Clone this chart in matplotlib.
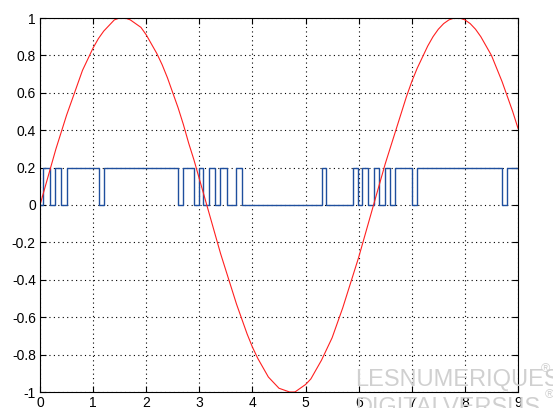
import numpy as np
import matplotlib.pyplot as plt

# red curve, every 0.1 on x
sine_x = np.linspace(0, 9, 91)
sine_y = [0.00, 0.10, 0.20, 0.30, 0.39, 0.48, 0.56, 0.64, 0.72, 0.78,
          0.84, 0.89, 0.93, 0.96, 0.99, 1.00, 1.00, 0.99, 0.97, 0.95,
          0.91, 0.86, 0.81, 0.75, 0.68, 0.60, 0.52, 0.43, 0.33, 0.24,
          0.14, 0.04, -0.06, -0.16, -0.26, -0.35, -0.44, -0.53, -0.61, -0.69,
          -0.76, -0.82, -0.87, -0.92, -0.95, -0.98, -0.99, -1.00, -1.00, -0.98,
          -0.96, -0.93, -0.88, -0.83, -0.77, -0.71, -0.63, -0.55, -0.46, -0.37,
          -0.28, -0.18, -0.08, 0.02, 0.12, 0.22, 0.31, 0.40, 0.49, 0.58,
          0.66, 0.73, 0.79, 0.85, 0.90, 0.94, 0.97, 0.99, 1.00, 1.00,
          0.99, 0.97, 0.94, 0.90, 0.85, 0.80, 0.73, 0.66, 0.58, 0.50,
          0.41]

# blue on/off signal: switching instants, starts at 0
switch_x = [0.06, 0.19, 0.29, 0.40, 0.51, 1.11, 1.21, 2.60, 2.69, 2.90,
            2.99, 3.07, 3.18, 3.30, 3.39, 3.52, 3.69, 3.80, 5.31, 5.39,
            5.90, 5.99, 6.06, 6.18, 6.29, 6.38, 6.50, 6.59, 6.69, 7.00,
            7.09, 8.69, 8.80]
high_level = 0.2

xticks = list(range(10))
yticks = [-1, -0.8, -0.6, -0.4, -0.2, 0, 0.2, 0.4, 0.6, 0.8, 1]
ytick_labels = ['-1', '-0.8', '-0.6', '-0.4', '-0.2', '0', '0.2', '0.4', '0.6', '0.8', '1']

# build step signal
sig_x = [0.0] + switch_x + [9.0]
sig_y = [0.0]
for i in range(len(switch_x)):
    sig_y.append(high_level if i % 2 == 0 else 0.0)
sig_y.append(sig_y[-1])

plt.rcParams['font.family'] = ['Liberation Sans', 'DejaVu Sans']

fig = plt.figure(figsize=(5.53, 4.08), dpi=100)
ax = fig.add_axes([40 / 553, 1 - 392 / 408, 478 / 553, 374 / 408])

ax.step(sig_x, sig_y, where='post', color='#1f4f9e', lw=1.0)
ax.plot(sine_x, sine_y, color='#ff2020', lw=0.8)

ax.set_xlim(0, 9)
ax.set_ylim(-1, 1)
ax.set_xticks(xticks)
ax.set_xticklabels([str(t) for t in xticks])
ax.set_yticks(yticks)
ax.set_yticklabels(ytick_labels)
ax.tick_params(direction='in', length=4, width=0.8, top=True, right=True,
               labelsize=10, pad=3)
ax.grid(True, color='black', linestyle=(0, (1, 3)), linewidth=0.8)
for s in ax.spines.values():
    s.set_linewidth(0.8)

# watermark
wm = dict(fontsize=17, color='#d0d0d0', zorder=5,
          family=['Liberation Sans Narrow', 'Liberation Sans'])
fig.text(355 / 553, 1 - 386 / 408, 'LESNUMERIQUES', **wm)
fig.text(355 / 553, 1 - 414 / 408, 'DIGITALVERSUS', **wm)
fig.text(541 / 553, 1 - 372 / 408, '®', fontsize=9, color='#d0d0d0', zorder=5)
fig.text(545 / 553, 1 - 398 / 408, '®', fontsize=9, color='#d0d0d0', zorder=5)

fig.savefig('out.png', dpi=100)
